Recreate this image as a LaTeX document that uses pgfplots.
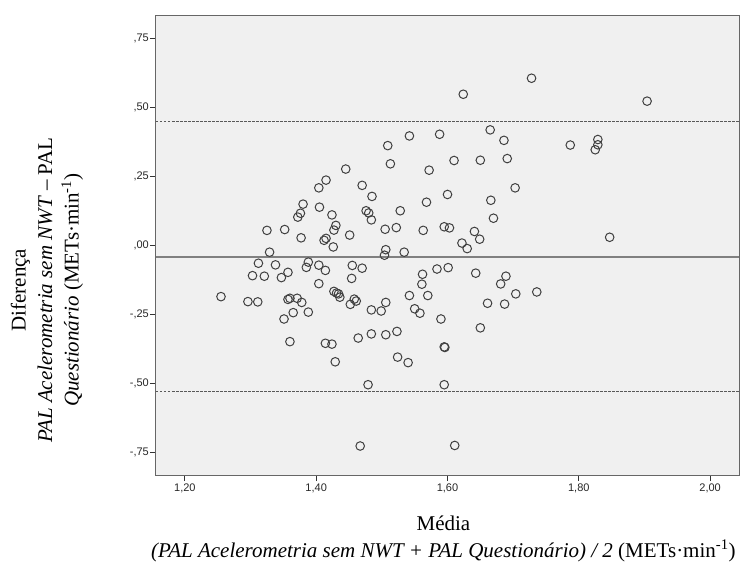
\documentclass[border=0pt]{standalone}
\usepackage{pgfplots}
\pgfplotsset{compat=1.18}
\usepackage{pgfplotstable}
\usepackage{fontspec}
\setmainfont{Liberation Serif}
\newfontfamily\tickfont{Liberation Sans}
\definecolor{bgc}{HTML}{F0F0F0}
\pgfplotstableread{
x y
1.728 0.605
1.624 0.547
1.904 0.522
1.665 0.418
1.686 0.380
1.588 0.402
1.542 0.396
1.509 0.361
1.513 0.295
1.787 0.363
1.829 0.383
1.829 0.364
1.825 0.346
1.572 0.272
1.610 0.307
1.650 0.308
1.691 0.314
1.703 0.208
1.600 0.184
1.568 0.156
1.666 0.163
1.670 0.098
1.528 0.125
1.505 0.058
1.522 0.064
1.563 0.054
1.595 0.067
1.603 0.063
1.641 0.050
1.649 0.022
1.622 0.008
1.630 -0.012
1.847 0.029
1.506 -0.016
1.504 -0.036
1.534 -0.025
1.445 0.276
1.470 0.217
1.485 0.177
1.404 0.208
1.415 0.236
1.380 0.149
1.405 0.138
1.376 0.116
1.372 0.102
1.424 0.110
1.430 0.072
1.427 0.055
1.476 0.125
1.480 0.117
1.484 0.092
1.325 0.054
1.352 0.057
1.377 0.027
1.415 0.025
1.412 0.018
1.451 0.037
1.426 -0.006
1.329 -0.025
1.312 -0.065
1.338 -0.071
1.388 -0.061
1.385 -0.080
1.404 -0.072
1.414 -0.091
1.455 -0.073
1.470 -0.083
1.303 -0.110
1.321 -0.112
1.347 -0.117
1.357 -0.098
1.454 -0.120
1.404 -0.139
1.255 -0.186
1.296 -0.204
1.311 -0.205
1.357 -0.196
1.360 -0.192
1.371 -0.192
1.378 -0.207
1.427 -0.167
1.431 -0.173
1.434 -0.176
1.436 -0.188
1.458 -0.195
1.461 -0.202
1.452 -0.214
1.365 -0.244
1.351 -0.267
1.388 -0.242
1.360 -0.349
1.414 -0.355
1.424 -0.358
1.429 -0.422
1.484 -0.234
1.499 -0.238
1.506 -0.207
1.542 -0.182
1.570 -0.182
1.550 -0.230
1.558 -0.246
1.590 -0.267
1.562 -0.105
1.561 -0.141
1.584 -0.086
1.601 -0.081
1.643 -0.101
1.689 -0.112
1.681 -0.140
1.704 -0.176
1.736 -0.169
1.661 -0.210
1.687 -0.213
1.650 -0.299
1.464 -0.336
1.484 -0.321
1.506 -0.324
1.523 -0.312
1.595 -0.368
1.596 -0.370
1.524 -0.405
1.540 -0.425
1.479 -0.505
1.595 -0.505
1.467 -0.727
1.611 -0.725
}\pts
\begin{document}
\begin{tikzpicture}
\useasboundingbox (-156pt,-90pt) rectangle (587pt,475pt);
\begin{axis}[
  at={(0,0)}, anchor=south west,
  scale only axis, width=583pt, height=460pt,
  xmin=1.156, xmax=2.044, ymin=-0.832, ymax=0.834,
  axis background/.style={fill=bgc},
  axis line style={draw=black!60, line width=1pt},
  xtick={1.2,1.4,1.6,1.8,2.0},
  xticklabels={{1,20},{1,40},{1,60},{1,80},{2,00}},
  ytick={-0.75,-0.5,-0.25,0,0.25,0.5,0.75},
  yticklabels={{-,75},{-,50},{-,25},{,00},{,25},{,50},{,75}},
  tick align=outside, major tick length=6pt,
  xtick pos=left, ytick pos=left,
  tick style={draw=black!80, line width=1pt},
  ticklabel style={font=\tickfont\fontsize{11}{13}\selectfont, text=black!85},
  yticklabel style={inner xsep=1pt},
  xticklabel style={inner ysep=2.5pt},
  clip=false,
]
\addplot[draw=black!50, line width=2pt, forget plot] coordinates {(1.156,-0.0413) (2.044,-0.0413)};
\addplot[draw=black!65, line width=1pt, dash pattern=on 2.5pt off 1.5pt, forget plot] coordinates {(1.156,0.4467) (2.044,0.4467)};
\addplot[draw=black!65, line width=1pt, dash pattern=on 2.5pt off 1.5pt, forget plot] coordinates {(1.156,-0.530) (2.044,-0.530)};
\addplot[only marks, mark=o, mark size=4.3pt, mark options={draw=black!75, line width=1pt}] table[x=x,y=y] {\pts};
\node[rotate=90, align=center, anchor=center, font=\fontsize{21}{26.5}\selectfont] at (axis description cs:-0.187,0.402)
  {Diferença\\ \textit{PAL Acelerometria sem NWT} – PAL\\ \textit{Questionário} (METs·min\textsuperscript{-1})};
\node[align=center, anchor=center, font=\fontsize{21}{27}\selectfont] at (axis description cs:0.493,-0.138)
  {Média\\ \textit{(PAL Acelerometria sem NWT + PAL Questionário) / 2} (METs·min\textsuperscript{-1})};
\end{axis}
\end{tikzpicture}
\end{document}
